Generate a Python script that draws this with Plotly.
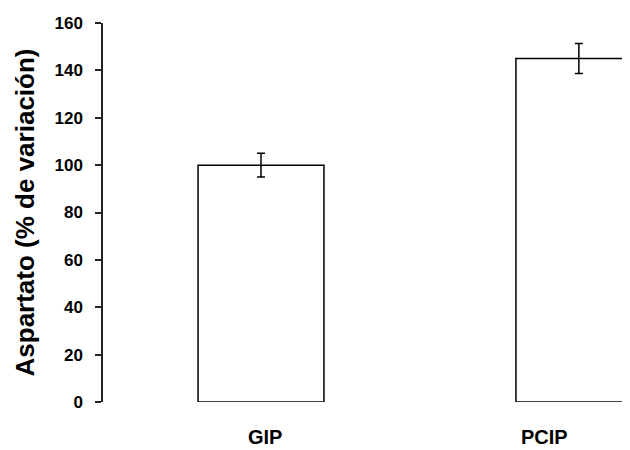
import plotly.graph_objects as go

categories = ["GIP", "PCIP"]
values = [100, 145]
errors = [5, 6.3]
label_offsets = [0.013, 0.893]  # label x positions (category units) as seen in the reference
y_ticks = [0, 20, 40, 60, 80, 100, 120, 140, 160]

fig = go.Figure()
fig.add_trace(go.Bar(
    x=list(range(len(categories))),
    y=values,
    width=0.396,
    marker=dict(color="white", line=dict(color="black", width=1.5)),
    error_y=dict(type="data", array=errors, visible=True, color="black",
                 thickness=1.5, width=4),
    showlegend=False,
))

for cat, xo in zip(categories, label_offsets):
    fig.add_annotation(x=xo, y=-0.092, xref="x", yref="paper", text=cat,
                       showarrow=False, xanchor="center", yanchor="middle",
                       font=dict(family="Arial, Liberation Sans", size=20,
                                 color="black", weight="bold"))

# page body has an 8px margin, so the figure is sized/offset to compensate
fig.update_layout(
    width=630, height=442,
    margin=dict(l=95, r=0, t=15, b=48),
    paper_bgcolor="white", plot_bgcolor="white",
    font=dict(family="Arial, Liberation Sans", color="black"),
    xaxis=dict(range=[-0.497, 1.186], showticklabels=False, showline=False,
               showgrid=False, zeroline=False, ticks=""),
    yaxis=dict(range=[0, 160], tickvals=y_ticks, ticks="outside", ticklen=6,
               tickwidth=1.5, tickcolor="#222", showline=True, linecolor="#222",
               linewidth=1.5, showgrid=False, zeroline=False,
               ticklabelstandoff=9,
               tickfont=dict(size=17, weight="bold", color="black"),
               title=dict(text="Aspartato (% de variación)", standoff=12,
                          font=dict(size=26, weight="bold", color="black"))),
)

fig.write_html("out.html")
